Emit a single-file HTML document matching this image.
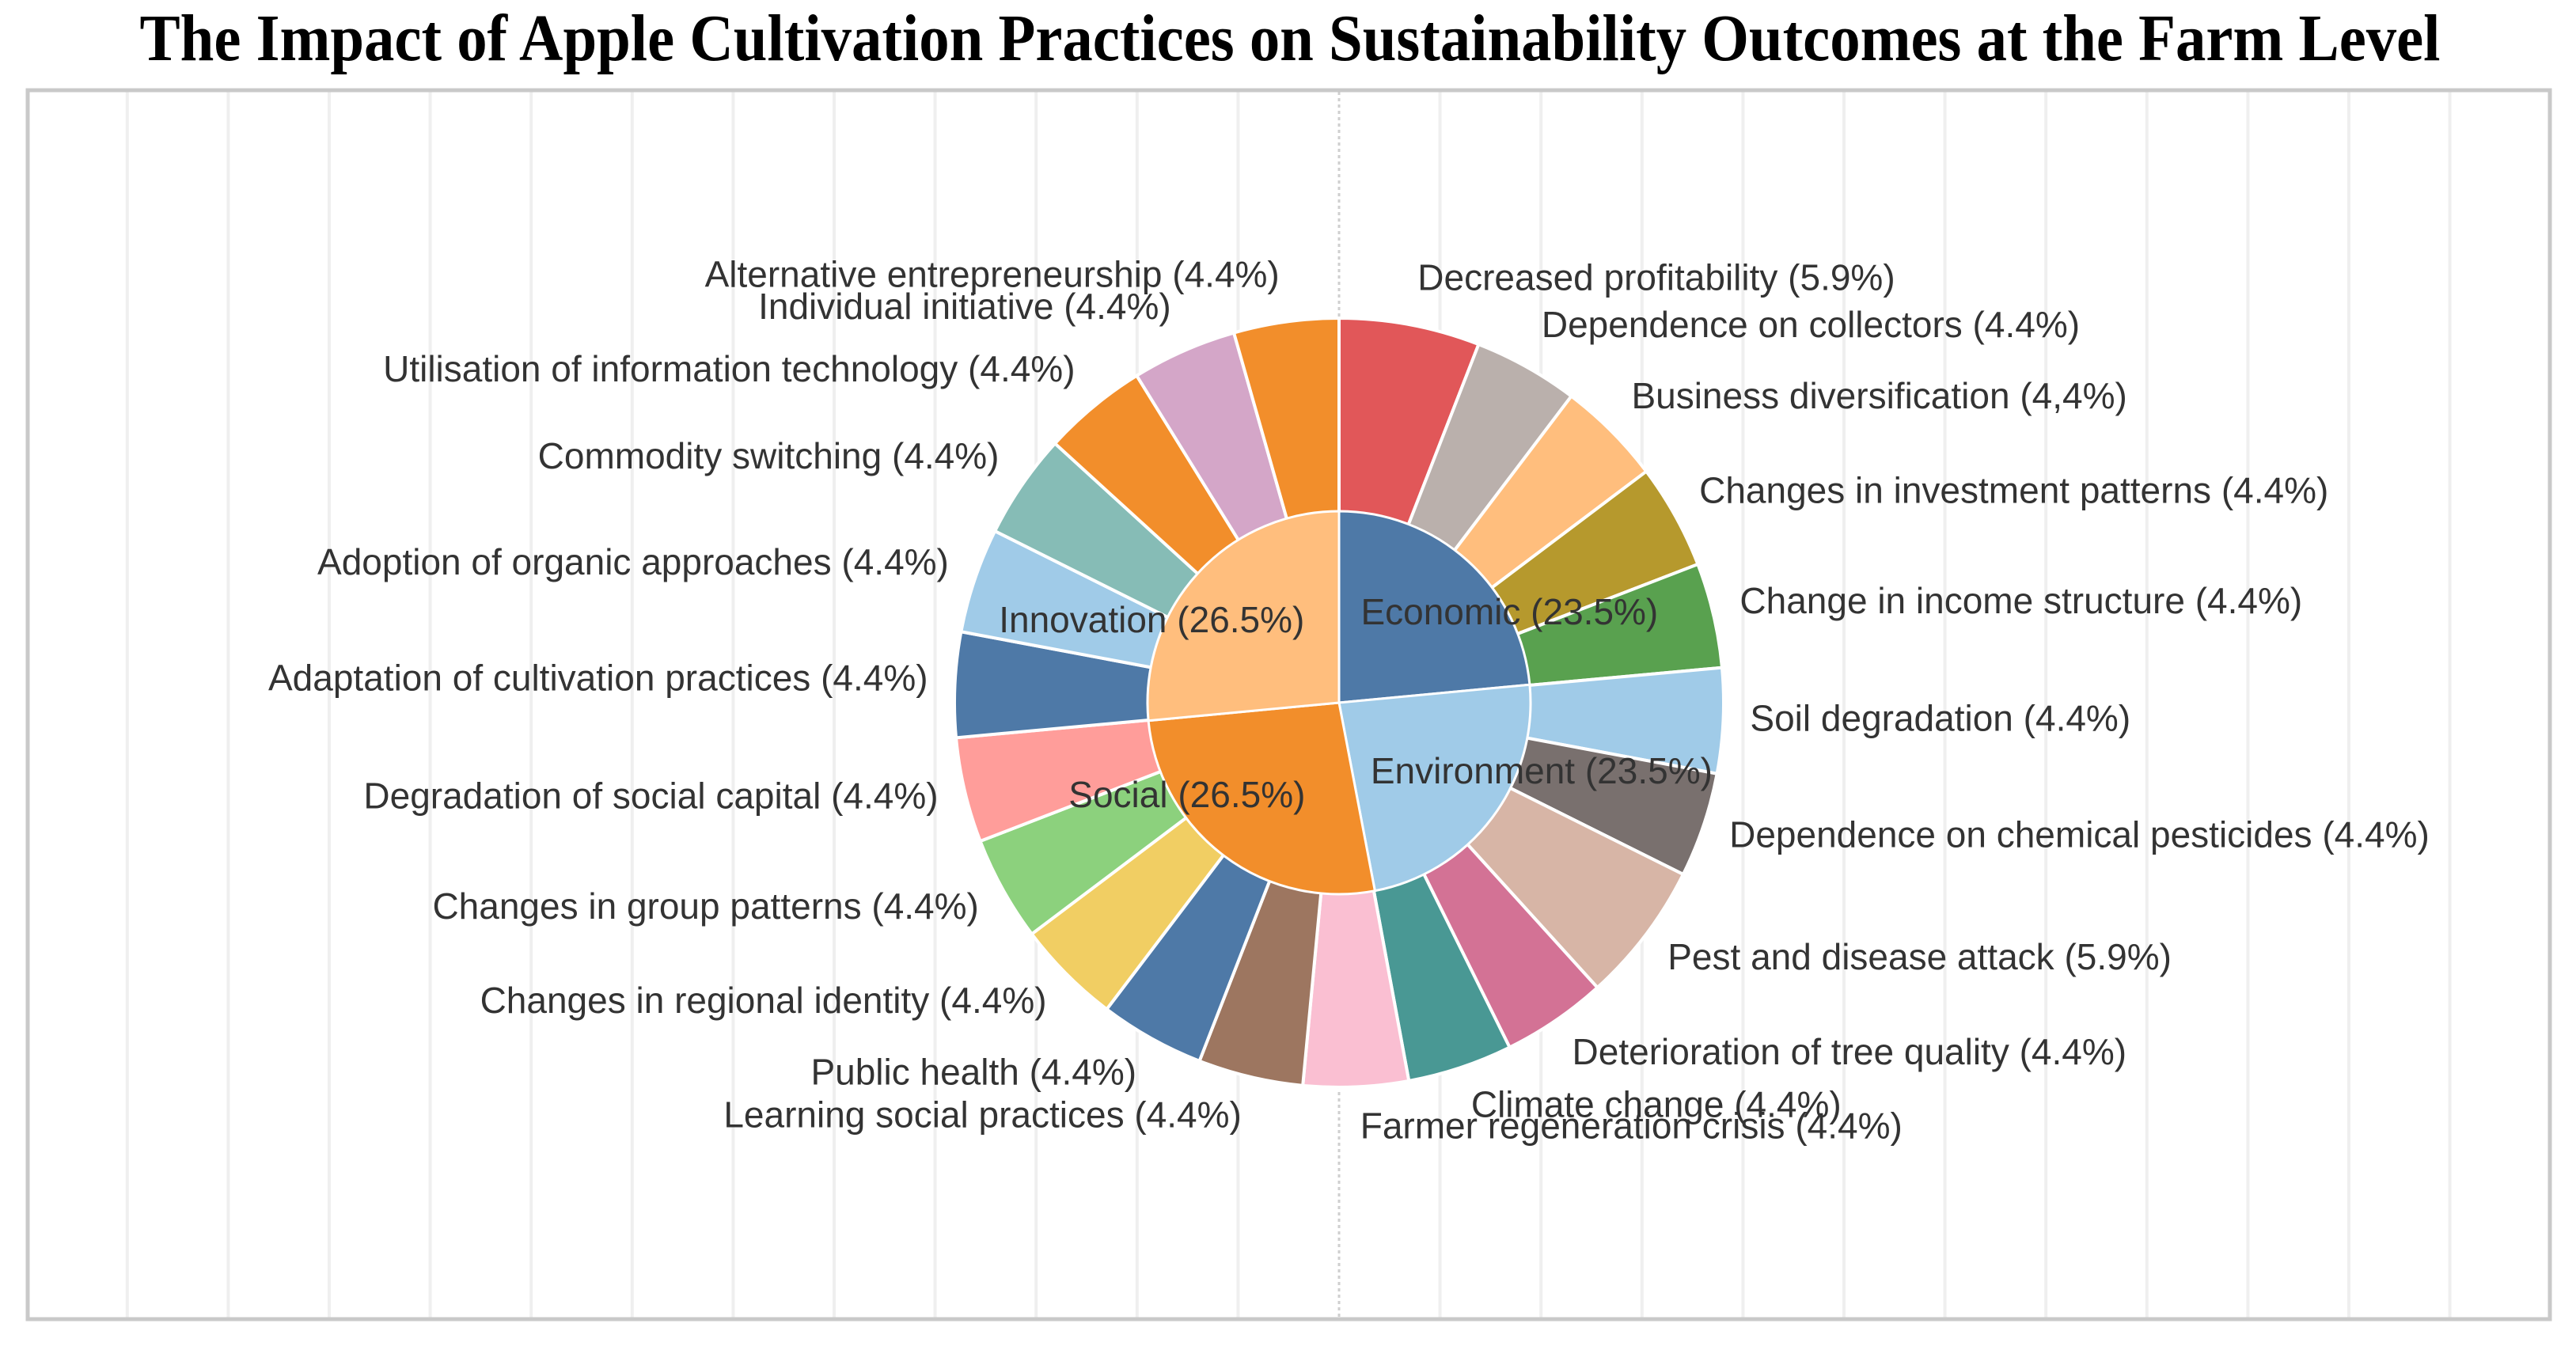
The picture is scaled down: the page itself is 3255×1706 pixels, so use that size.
<!DOCTYPE html>
<html>
<head>
<meta charset="utf-8">
<style>
  html, body { margin: 0; padding: 0; background: #ffffff; }
  body { width: 3255px; height: 1706px; overflow: hidden; }
  svg { display: block; }
  .lbl { font-family: "Liberation Sans", "DejaVu Sans", sans-serif; }
  .ttl { font-family: "Liberation Serif", "DejaVu Serif", serif; font-weight: bold; }
</style>
</head>
<body>
<svg id="chart" width="3255" height="1706" viewBox="0 0 3255 1706" xmlns="http://www.w3.org/2000/svg">
  <text class="ttl" x="1630" y="76" text-anchor="middle" font-size="84" textLength="2907" lengthAdjust="spacingAndGlyphs" fill="#000">The Impact of Apple Cultivation Practices on Sustainability Outcomes at the Farm Level</text>
  <g id="grid"></g>
  <rect x="35" y="114" width="3187" height="1553" fill="none" stroke="#c9c9c9" stroke-width="5"/>
  <g id="outer"></g>
  <g id="inner"></g>
  <g id="labels"></g>
</svg>
<script>
// ---- data ----
const innerCategories = ["Economic", "Environment", "Social", "Innovation"];
const innerValues = [23.5, 23.5, 26.5, 26.5];
const innerColors = ["#4e79a7", "#a0cbe8", "#f28e2b", "#ffbe7d"];

const outerCategories = [
  "Decreased profitability", "Dependence on collectors", "Business diversification",
  "Changes in investment patterns", "Change in income structure",
  "Soil degradation", "Dependence on chemical pesticides", "Pest and disease attack",
  "Deterioration of tree quality", "Climate change",
  "Farmer regeneration crisis", "Learning social practices", "Public health",
  "Changes in regional identity", "Changes in group patterns", "Degradation of social capital",
  "Adaptation of cultivation practices", "Adoption of organic approaches", "Commodity switching",
  "Utilisation of information technology", "Individual initiative", "Alternative entrepreneurship"
];
const outerValues = [5.9, 4.4, 4.4, 4.4, 4.4, 4.4, 4.4, 5.9, 4.4, 4.4, 4.4, 4.4, 4.4, 4.4, 4.4, 4.4, 4.4, 4.4, 4.4, 4.4, 4.4, 4.4];
const outerValueLabels = ["5.9%", "4.4%", "4,4%", "4.4%", "4.4%", "4.4%", "4.4%", "5.9%", "4.4%", "4.4%", "4.4%", "4.4%", "4.4%", "4.4%", "4.4%", "4.4%", "4.4%", "4.4%", "4.4%", "4.4%", "4.4%", "4.4%"];
const outerColors = [
  "#e15759", "#bab0ac", "#ffbe7d", "#b6992d", "#59a14f",
  "#a0cbe8", "#79706e", "#d7b5a6", "#d37295", "#499894",
  "#fabfd2", "#9d7660", "#4e79a7", "#f1ce63", "#8cd17d", "#ff9d9a",
  "#4e79a7", "#a0cbe8", "#86bcb6", "#f28e2b", "#d4a6c8", "#f28e2b"
];

// ---- layout ----
const NS = "http://www.w3.org/2000/svg";
const cx = 1692, cy = 888, R = 486, r = 242;

function angleScale(values) {
  const total = values.reduce((a, b) => a + b, 0);
  let acc = 0;
  return values.map(v => { const s = acc / total * 360; acc += v; return [s, acc / total * 360]; });
}
function pt(rad, deg) {
  const a = deg * Math.PI / 180;
  return [cx + rad * Math.sin(a), cy - rad * Math.cos(a)];
}
function wedge(rad, a0, a1) {
  const p0 = pt(rad, a0), p1 = pt(rad, a1);
  const large = (a1 - a0) > 180 ? 1 : 0;
  return `M${cx},${cy} L${p0[0]},${p0[1]} A${rad},${rad} 0 ${large} 1 ${p1[0]},${p1[1]} Z`;
}

// grid
const grid = document.getElementById("grid");
for (let k = -13; k <= 12; k++) {
  const x = cx + k * 127.6;
  if (x < 40 || x > 3218) continue;
  const l = document.createElementNS(NS, "line");
  
  
  l.setAttribute("x1", x); l.setAttribute("x2", x);
  l.setAttribute("y1", 116); l.setAttribute("y2", 1665);
  l.setAttribute("stroke", k === 0 ? "#cfcfcf" : "#efefef");
  l.setAttribute("stroke-width", k === 0 ? 3 : 4);
  if (k === 0) l.setAttribute("stroke-dasharray", "4 4");
  grid.appendChild(l);
}

// outer ring
const outerG = document.getElementById("outer");
const labelsG = document.getElementById("labels");
const outerAngles = angleScale(outerValues);
outerAngles.forEach(([a0, a1], i) => {
  const p = document.createElementNS(NS, "path");
  
  
  p.setAttribute("d", wedge(R, a0, a1));
  p.setAttribute("fill", outerColors[i]);
  p.setAttribute("stroke", "#ffffff");
  p.setAttribute("stroke-width", 4);
  outerG.appendChild(p);

  const mid = (a0 + a1) / 2;
  const s = Math.sin(mid * Math.PI / 180), c = Math.cos(mid * Math.PI / 180);
  const lp = pt(R + 30, mid);
  const t = document.createElementNS(NS, "text");
  
  
  t.setAttribute("class", "lbl");
  t.setAttribute("x", lp[0] + (s >= 0 ? 4 : -4));
  t.setAttribute("y", lp[1] - c * 25 - 2);
  t.setAttribute("text-anchor", s >= 0 ? "start" : "end");
  t.setAttribute("dominant-baseline", "middle");
  t.setAttribute("font-size", 46);
  t.setAttribute("fill", "#333");
  t.textContent = outerCategories[i] + " (" + outerValueLabels[i] + ")";
  labelsG.appendChild(t);
});

// inner pie
const innerG = document.getElementById("inner");
const innerAngles = angleScale(innerValues);
innerAngles.forEach(([a0, a1], i) => {
  const p = document.createElementNS(NS, "path");
  
  
  p.setAttribute("d", wedge(r, a0, a1));
  p.setAttribute("fill", innerColors[i]);
  p.setAttribute("stroke", "#ffffff");
  p.setAttribute("stroke-width", 3);
  innerG.appendChild(p);
});
innerAngles.forEach(([a0, a1], i) => {
  const mid = (a0 + a1) / 2;
  const a = mid * Math.PI / 180;
  const t = document.createElementNS(NS, "text");
  
  
  t.setAttribute("class", "lbl");
  t.setAttribute("x", cx + 320 * Math.sin(a));
  t.setAttribute("y", cy - 150 * Math.cos(a));
  t.setAttribute("text-anchor", "middle");
  t.setAttribute("dominant-baseline", "middle");
  t.setAttribute("font-size", 46);
  t.setAttribute("fill", "#333");
  t.textContent = innerCategories[i] + " (" + innerValues[i].toFixed(1) + "%)";
  labelsG.appendChild(t);
});
</script>
</body>
</html>
